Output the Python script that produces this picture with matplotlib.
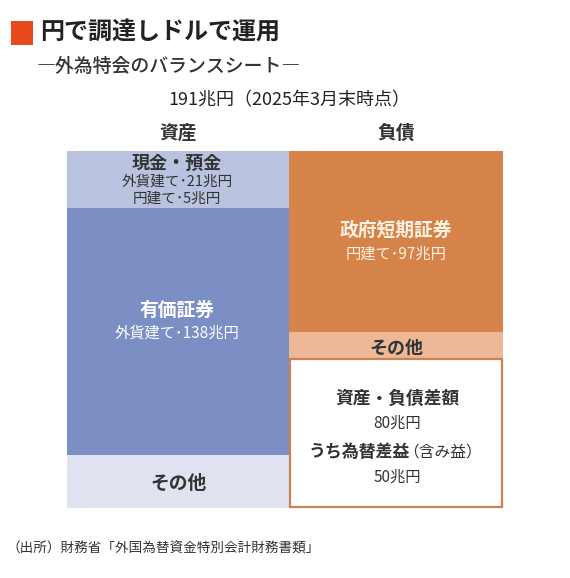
import matplotlib
matplotlib.use("Agg")
import matplotlib.pyplot as plt
from matplotlib.patches import Rectangle

plt.rcParams["font.family"] = ["Noto Sans CJK JP", "DejaVu Sans"]

# --- data (兆円) ---
sides = ["資産", "負債"]
# block heights as drawn in the reference (top -> bottom)
asset_names = ["現金・預金", "有価証券", "その他"]
asset_sizes = [30.5, 132, 28.5]
liab_names = ["政府短期証券", "その他", "資産・負債差額"]
liab_sizes = [97, 14, 80]
total = 191

asset_colors = ["#b9c3df", "#7b8fc4", "#dfe3ef"]
liab_colors = ["#d6834a", "#ecb898", "white"]

W, H = 570, 578
fig = plt.figure(figsize=(W / 100, H / 100), dpi=100)
fig.patch.set_facecolor("white")

def fx(x): return x / W
def fy(y): return 1 - y / H

def T(x, y, s, fs, col="#333333", w="normal", ha="center"):
    fig.text(fx(x), fy(y), s, fontsize=fs, color=col, fontweight=w, ha=ha, va="center")

# chart area: x 66.7..503, y 151..508 px; left column 222 px wide, right 214
ax = fig.add_axes([fx(66.7), fy(508), (503 - 66.7) / W, (508 - 151) / H])
ax.set_xlim(0, 436.3)
ax.set_ylim(total, 0)
ax.axis("off")

b = 0
for h, c in zip(asset_sizes, asset_colors):
    ax.bar(0, h, bottom=b, width=222.3, align="edge", color=c, edgecolor="none")
    b += h
b = 0
for h, c in zip(liab_sizes, liab_colors):
    if c == "white":
        ax.bar(223.5, h - 0.9, bottom=b + 0.4, width=211.6, align="edge", color=c,
               edgecolor="#c98250", lw=1.6, clip_on=False)
    else:
        ax.bar(222.3, h, bottom=b, width=214, align="edge", color=c, edgecolor="none")
    b += h

# title block
fig.patches.append(Rectangle((fx(11), fy(45)), fx(22), 24 / H, transform=fig.transFigure,
                             facecolor="#e84a1c", edgecolor="none"))
T(40, 33, "円で調達しドルで運用", 17.3, col="#222222", w="bold", ha="left")
T(37, 66, "―外為特会のバランスシート―", 13.6, col="#333333", w="medium", ha="left")
T(289, 100, "191兆円（2025年3月末時点）", 13, col="#222222")
T(178, 133, sides[0], 13.5, w="bold")
T(396, 133, sides[1], 13.5, w="bold")

# asset labels
T(177, 163, asset_names[0], 13, w="bold")
T(177, 182, "外貨建て･21兆円", 10.5)
T(177, 198.5, "円建て･5兆円", 10.5)
T(177, 310, asset_names[1], 13.5, col="white", w="bold")
T(177, 333, "外貨建て･138兆円", 11, col="white")
T(178, 483, asset_names[2], 13.5, w="bold")

# liability labels
T(396, 230, liab_names[0], 13.5, col="#fdf1e4", w="bold")
T(396, 254, "円建て･97兆円", 11, col="#fdf1e4")
T(396, 348, liab_names[1], 13, w="bold")
T(397, 399, liab_names[2], 12.8, w="bold")
T(397, 423, "80兆円", 11)
T(410, 452, "うち為替差益", 12.2, w="bold", ha="right")
T(403, 452, "（含み益）", 11.3, ha="left")
T(397, 477, "50兆円", 11)

T(6, 549, "（出所）財務省「外国為替資金特別会計財務書類」", 9.8, col="#333333", ha="left")

fig.savefig("out.png", dpi=100, facecolor="white")
